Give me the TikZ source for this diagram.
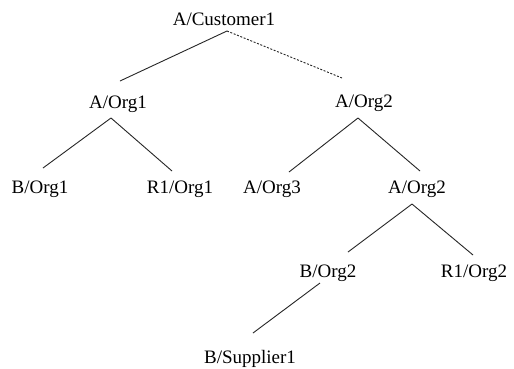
\documentclass[tikz,border=0pt]{standalone}
\usepackage{fontspec}
\setmainfont{Liberation Serif}
\begin{document}
\begin{tikzpicture}[x=1pt,y=-1pt,
  lbl/.style={anchor=base,inner sep=0pt,font=\fontsize{19}{21}\selectfont},
  edge/.style={line width=0.9pt,black!85},
  dotedge/.style={edge,dash pattern=on 2pt off 1.6pt}]
\useasboundingbox[fill=white] (0,0) rectangle (514,368);
% nodes (baseline positions)
\node[lbl] (cust) at (224,25.5) {A/Customer1};
\node[lbl] (o1)   at (118,108.5) {A/Org1};
\node[lbl] (o2)   at (364,107) {A/Org2};
\node[lbl] (b1)   at (40,193.5) {B/Org1};
\node[lbl] (r1)   at (180,193.5) {R1/Org1};
\node[lbl] (o3)   at (272,193.5) {A/Org3};
\node[lbl] (o2b)  at (417,193.5) {A/Org2};
\node[lbl] (b2)   at (328,277.5) {B/Org2};
\node[lbl] (r2)   at (474,277.5) {R1/Org2};
\node[lbl] (s1)   at (250,363) {B/Supplier1};
% connector end points
\coordinate (custB) at (227,31);
\coordinate (o1T) at (120,81);
\coordinate (o2T) at (342,78);
\coordinate (o1B) at (111,118);
\coordinate (b1T) at (43,168);
\coordinate (r1T) at (172,171);
\coordinate (o2B) at (358,118);
\coordinate (o3T) at (289,172);
\coordinate (o2bT) at (420,171);
\coordinate (o2bB) at (412,204);
\coordinate (b2T) at (348,252);
\coordinate (r2T) at (473,255);
\coordinate (b2B) at (320,283);
\coordinate (s1T) at (253,333);
% connectors
\draw[edge] (custB) -- (o1T);
\draw[dotedge] (custB) -- (o2T);
\draw[edge] (o1B) -- (b1T);
\draw[edge] (o1B) -- (r1T);
\draw[edge] (o2B) -- (o3T);
\draw[edge] (o2B) -- (o2bT);
\draw[edge] (o2bB) -- (b2T);
\draw[edge] (o2bB) -- (r2T);
\draw[edge] (b2B) -- (s1T);
\end{tikzpicture}
\end{document}
